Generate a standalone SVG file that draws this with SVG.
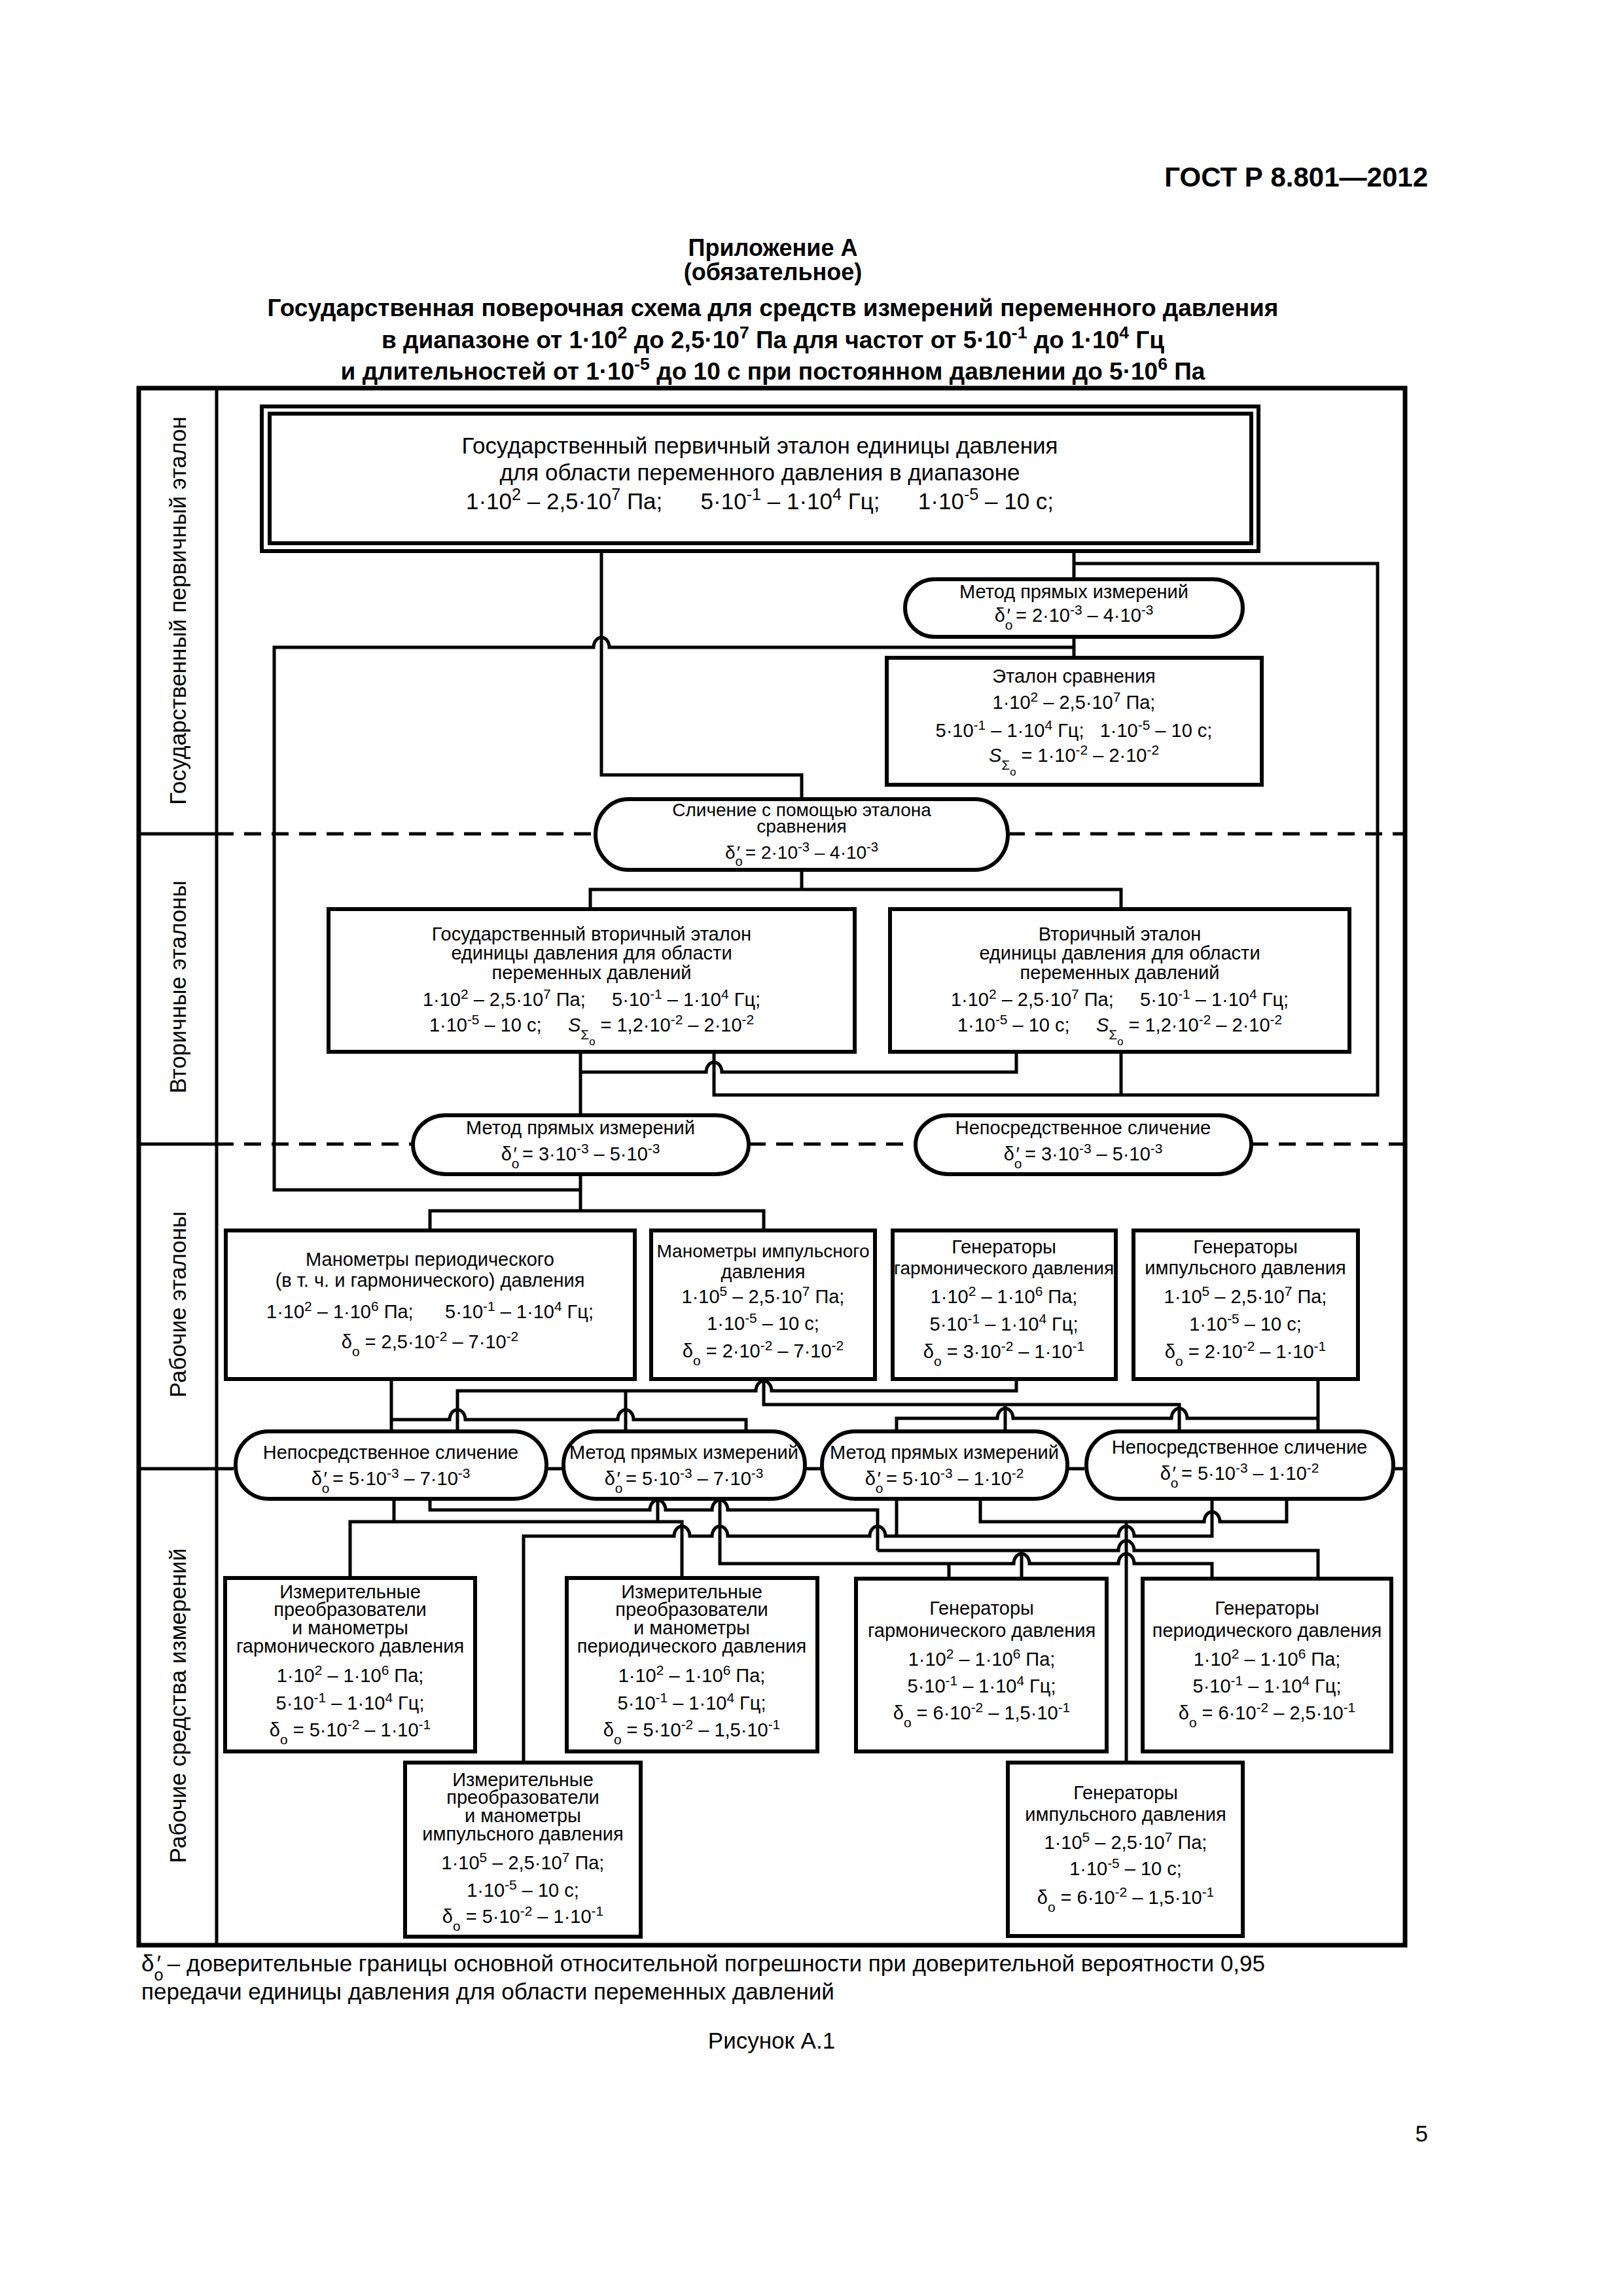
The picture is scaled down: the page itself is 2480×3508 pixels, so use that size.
<svg xmlns="http://www.w3.org/2000/svg" width="2480" height="3508" viewBox="0 0 2480 3508">
<style>
.tx{font-family:"Liberation Sans",Arial,sans-serif;font-size:29px;text-anchor:middle;fill:#000}
.st{text-anchor:start}
.en{text-anchor:end}
.p35{font-size:35px}
.sm{font-size:28px}
.n28{font-size:28px}
.hd{font-weight:bold;font-size:37px}
.u{font-size:72%;baseline-shift:super}
.d{font-size:72%;baseline-shift:sub}
.d2{font-size:80%;baseline-shift:sub}
.it{font-style:italic}
.box{fill:#fff;stroke:#000;stroke-width:6}
.ln{fill:none;stroke:#000;stroke-width:5}
.dash{stroke-dasharray:26 16}
.frame{fill:none;stroke:#000;stroke-width:7}
</style>
<rect width="2480" height="3508" fill="#fff"/>

<g id="header">
<text class="tx hd en" x="2182" y="285" style="font-size:42px">ГОСТ Р 8.801—2012</text>
<text class="tx hd" x="1181" y="391" style="font-size:36px">Приложение А</text>
<text class="tx hd" x="1181" y="428" style="font-size:36px">(обязательное)</text>
<text class="tx hd" x="1181" y="483">Государственная поверочная схема для средств измерений переменного давления</text>
<text class="tx hd" x="1181" y="532">в диапазоне от 1·10<tspan class="u">2</tspan> до 2,5·10<tspan class="u">7</tspan> Па для частот от 5·10<tspan class="u">-1</tspan> до 1·10<tspan class="u">4</tspan> Гц</text>
<text class="tx hd" x="1181" y="580">и длительностей от 1·10<tspan class="u">-5</tspan> до 10 с при постоянном давлении до 5·10<tspan class="u">6</tspan> Па</text>
</g>

<g id="frame">
<rect class="frame" x="212" y="593" width="1935" height="2379"/>
<line class="ln" x1="331" y1="593" x2="331" y2="2972"/>
<line class="ln" x1="212" y1="1274" x2="331" y2="1274"/>
<line class="ln" x1="212" y1="1748" x2="331" y2="1748"/>
<line class="ln" x1="212" y1="2244" x2="331" y2="2244"/>
<path class="ln dash" d="M331,1274H910M1540,1274H2147M331,1748H631M1144,1748H1399M1912,1748H2147M331,2244H360M835,2244H861M1230,2244H1256M1631,2244H1660M2129,2244H2147"/>
<text class="tx p35" transform="translate(284,933) rotate(-90)">Государственный первичный эталон</text>
<text class="tx p35" transform="translate(284,1508) rotate(-90)">Вторичные эталоны</text>
<text class="tx p35" transform="translate(284,1993) rotate(-90)">Рабочие эталоны</text>
<text class="tx p35" transform="translate(284,2606) rotate(-90)">Рабочие средства измерений</text>
</g>

<g id="connectors">
<path class="ln" d="M919,842V1184H1225V1221"/>
<path class="ln" d="M1641,842V885"/>
<path class="ln" d="M1641,861H2105V1673H1091V1607"/>
<path class="ln" d="M1713,1607V1673"/>
<path class="ln" d="M1641,973V1005"/>
<path class="ln" d="M887,1818H419V989H907A12 15 0 0 1 931,989H1641"/>
<path class="ln" d="M1225,1329V1359"/>
<path class="ln" d="M902,1389V1359H1713V1389"/>
<path class="ln" d="M887,1607V1704"/>
<path class="ln" d="M887,1638H1079A12 15 0 0 1 1103,1638H1553V1607"/>
<path class="ln" d="M887,1794V1850"/>
<path class="ln" d="M657,1880V1850H1167V1880"/>
<path class="ln" d="M598,2107V2187"/>
<path class="ln" d="M598,2169H687A12 15 0 0 1 711,2169H944A12 15 0 0 1 968,2169H1140V2187"/>
<path class="ln" d="M699,2187V2125H1155A12 15 0 0 1 1179,2125H1553V2107"/>
<path class="ln" d="M956,2125V2187"/>
<path class="ln" d="M1167,2107V2146H1802V2187"/>
<path class="ln" d="M1536,2146V2187"/>
<path class="ln" d="M1370,2187V2167H1524A12 15 0 0 1 1548,2167H1790A12 15 0 0 1 1814,2167H2014"/>
<path class="ln" d="M2014,2107V2187"/>
<path class="ln" d="M602,2290V2325"/>
<path class="ln" d="M535,2411V2325H1042V2411"/>
<path class="ln" d="M1005,2290V2325"/>
<path class="ln" d="M657,2290V2307H993A12 15 0 0 1 1017,2307H1088A12 15 0 0 1 1112,2307H1341V2369"/>
<path class="ln" d="M1341,2369H1709A12 15 0 0 1 1733,2369H2014V2412"/>
<path class="ln" d="M1561,2369V2412"/>
<path class="ln" d="M1100,2290V2389H1549A12 15 0 0 1 1573,2389H1709A12 15 0 0 1 1733,2389H1852V2412"/>
<path class="ln" d="M1450,2389V2412"/>
<path class="ln" d="M800,2693V2347H1030A12 15 0 0 1 1054,2347H1088A12 15 0 0 1 1112,2347H1329A12 15 0 0 1 1353,2347H1709A12 15 0 0 1 1733,2347H1852V2290"/>
<path class="ln" d="M1370,2290V2347"/>
<path class="ln" d="M1498,2290V2325H1840A12 15 0 0 1 1864,2325H1966V2290"/>
<path class="ln" d="M1721,2325V2693"/>
</g>

<g id="n-primary">
<rect class="box" x="400" y="621" width="1523" height="221"/>
<rect class="box" x="412" y="632" width="1500" height="198"/>
<text class="tx p35" x="1161" y="693">Государственный первичный эталон единицы давления</text>
<text class="tx p35" x="1161" y="734">для области переменного давления в диапазоне</text>
<text class="tx p35" x="1161" y="778">1·10<tspan class="u">2</tspan> – 2,5·10<tspan class="u">7</tspan> Па;&#160;&#160;&#160;&#160;&#160; 5·10<tspan class="u">-1</tspan> – 1·10<tspan class="u">4</tspan> Гц;&#160;&#160;&#160;&#160;&#160; 1·10<tspan class="u">-5</tspan> – 10 с;</text>
</g>

<g id="n-method1">
<rect class="box" x="1383" y="885" width="516" height="88" rx="45" ry="44"/>
<text class="tx" x="1641" y="914">Метод прямых измерений</text>
<text class="tx" x="1641" y="950">δ<tspan class="d">о</tspan><tspan dx="-9">′</tspan> = 2·10<tspan class="u">-3</tspan> – 4·10<tspan class="u">-3</tspan></text>
</g>

<g id="n-etalon-sravneniya">
<rect class="box" x="1355" y="1005" width="573" height="194"/>
<text class="tx" x="1641" y="1043">Эталон сравнения</text>
<text class="tx" x="1641" y="1083">1·10<tspan class="u">2</tspan> – 2,5·10<tspan class="u">7</tspan> Па;</text>
<text class="tx" x="1641" y="1126">5·10<tspan class="u">-1</tspan> – 1·10<tspan class="u">4</tspan> Гц;&#160;&#160; 1·10<tspan class="u">-5</tspan> – 10 с;</text>
<text class="tx" x="1641" y="1164"><tspan class="it">S</tspan><tspan class="d">Σ<tspan class="d2">о</tspan></tspan> = 1·10<tspan class="u">-2</tspan> – 2·10<tspan class="u">-2</tspan></text>
</g>

<g id="n-slichenie">
<rect class="box" x="910" y="1221" width="630" height="108" rx="50" ry="54"/>
<text class="tx sm" x="1225" y="1247">Сличение с помощью эталона</text>
<text class="tx sm" x="1225" y="1272">сравнения</text>
<text class="tx sm" x="1225" y="1312">δ<tspan class="d">о</tspan><tspan dx="-9">′</tspan> = 2·10<tspan class="u">-3</tspan> – 4·10<tspan class="u">-3</tspan></text>
</g>

<g id="n-gos-vtorichny">
<rect class="box" x="502" y="1389" width="804" height="218"/>
<text class="tx" x="904" y="1437">Государственный вторичный эталон</text>
<text class="tx" x="904" y="1466">единицы давления для области</text>
<text class="tx" x="904" y="1496">переменных давлений</text>
<text class="tx" x="904" y="1537">1·10<tspan class="u">2</tspan> – 2,5·10<tspan class="u">7</tspan> Па;&#160;&#160;&#160;&#160; 5·10<tspan class="u">-1</tspan> – 1·10<tspan class="u">4</tspan> Гц;</text>
<text class="tx" x="904" y="1576">1·10<tspan class="u">-5</tspan> – 10 с;&#160;&#160;&#160;&#160; <tspan class="it">S</tspan><tspan class="d">Σ<tspan class="d2">о</tspan></tspan> = 1,2·10<tspan class="u">-2</tspan> – 2·10<tspan class="u">-2</tspan></text>
</g>

<g id="n-vtorichny">
<rect class="box" x="1360" y="1389" width="702" height="218"/>
<text class="tx" x="1711" y="1437">Вторичный эталон</text>
<text class="tx" x="1711" y="1466">единицы давления для области</text>
<text class="tx" x="1711" y="1496">переменных давлений</text>
<text class="tx" x="1711" y="1537">1·10<tspan class="u">2</tspan> – 2,5·10<tspan class="u">7</tspan> Па;&#160;&#160;&#160;&#160; 5·10<tspan class="u">-1</tspan> – 1·10<tspan class="u">4</tspan> Гц;</text>
<text class="tx" x="1711" y="1576">1·10<tspan class="u">-5</tspan> – 10 с;&#160;&#160;&#160;&#160; <tspan class="it">S</tspan><tspan class="d">Σ<tspan class="d2">о</tspan></tspan> = 1,2·10<tspan class="u">-2</tspan> – 2·10<tspan class="u">-2</tspan></text>
</g>

<g id="n-method2">
<rect class="box" x="631" y="1704" width="513" height="90" rx="50" ry="45"/>
<text class="tx" x="887" y="1733">Метод прямых измерений</text>
<text class="tx" x="887" y="1773">δ<tspan class="d">о</tspan><tspan dx="-9">′</tspan> = 3·10<tspan class="u">-3</tspan> – 5·10<tspan class="u">-3</tspan></text>
</g>

<g id="n-neposr1">
<rect class="box" x="1399" y="1704" width="513" height="90" rx="50" ry="45"/>
<text class="tx" x="1655" y="1733">Непосредственное сличение</text>
<text class="tx" x="1655" y="1773">δ<tspan class="d">о</tspan><tspan dx="-9">′</tspan> = 3·10<tspan class="u">-3</tspan> – 5·10<tspan class="u">-3</tspan></text>
</g>

<g id="n-manometry-period">
<rect class="box" x="345" y="1880" width="625" height="227"/>
<text class="tx" x="657" y="1934">Манометры периодического</text>
<text class="tx" x="657" y="1966">(в т. ч. и гармонического) давления</text>
<text class="tx" x="657" y="2014">1·10<tspan class="u">2</tspan> – 1·10<tspan class="u">6</tspan> Па;&#160;&#160;&#160;&#160;&#160; 5·10<tspan class="u">-1</tspan> – 1·10<tspan class="u">4</tspan> Гц;</text>
<text class="tx" x="657" y="2060">δ<tspan class="d">о</tspan> = 2,5·10<tspan class="u">-2</tspan> – 7·10<tspan class="u">-2</tspan></text>
</g>

<g id="n-manometry-imp">
<rect class="box" x="995" y="1880" width="342" height="227"/>
<text class="tx n28" x="1166" y="1921">Манометры импульсного</text>
<text class="tx" x="1166" y="1953">давления</text>
<text class="tx" x="1166" y="1991">1·10<tspan class="u">5</tspan> – 2,5·10<tspan class="u">7</tspan> Па;</text>
<text class="tx" x="1166" y="2032">1·10<tspan class="u">-5</tspan> – 10 с;</text>
<text class="tx" x="1166" y="2074">δ<tspan class="d">о</tspan> = 2·10<tspan class="u">-2</tspan> – 7·10<tspan class="u">-2</tspan></text>
</g>

<g id="n-gen-garm-re">
<rect class="box" x="1364" y="1880" width="341" height="227"/>
<text class="tx" x="1534" y="1915">Генераторы</text>
<text class="tx n28" x="1534" y="1947">гармонического давления</text>
<text class="tx" x="1534" y="1991">1·10<tspan class="u">2</tspan> – 1·10<tspan class="u">6</tspan> Па;</text>
<text class="tx" x="1534" y="2033">5·10<tspan class="u">-1</tspan> – 1·10<tspan class="u">4</tspan> Гц;</text>
<text class="tx" x="1534" y="2075">δ<tspan class="d">о</tspan> = 3·10<tspan class="u">-2</tspan> – 1·10<tspan class="u">-1</tspan></text>
</g>

<g id="n-gen-imp-re">
<rect class="box" x="1732" y="1880" width="343" height="227"/>
<text class="tx" x="1903" y="1915">Генераторы</text>
<text class="tx" x="1903" y="1947">импульсного давления</text>
<text class="tx" x="1903" y="1991">1·10<tspan class="u">5</tspan> – 2,5·10<tspan class="u">7</tspan> Па;</text>
<text class="tx" x="1903" y="2033">1·10<tspan class="u">-5</tspan> – 10 с;</text>
<text class="tx" x="1903" y="2075">δ<tspan class="d">о</tspan> = 2·10<tspan class="u">-2</tspan> – 1·10<tspan class="u">-1</tspan></text>
</g>

<g id="n-oval-neposr2">
<rect class="box" x="360" y="2187" width="475" height="103" rx="50" ry="51"/>
<text class="tx" x="597" y="2229">Непосредственное сличение</text>
<text class="tx" x="597" y="2269">δ<tspan class="d">о</tspan><tspan dx="-9">′</tspan> = 5·10<tspan class="u">-3</tspan> – 7·10<tspan class="u">-3</tspan></text>
</g>

<g id="n-oval-method3">
<rect class="box" x="861" y="2187" width="369" height="103" rx="50" ry="51"/>
<text class="tx" x="1045" y="2229">Метод прямых измерений</text>
<text class="tx" x="1045" y="2269">δ<tspan class="d">о</tspan><tspan dx="-9">′</tspan> = 5·10<tspan class="u">-3</tspan> – 7·10<tspan class="u">-3</tspan></text>
</g>

<g id="n-oval-method4">
<rect class="box" x="1256" y="2187" width="375" height="103" rx="50" ry="51"/>
<text class="tx" x="1443" y="2229">Метод прямых измерений</text>
<text class="tx" x="1443" y="2269">δ<tspan class="d">о</tspan><tspan dx="-9">′</tspan> = 5·10<tspan class="u">-3</tspan> – 1·10<tspan class="u">-2</tspan></text>
</g>

<g id="n-oval-neposr3">
<rect class="box" x="1660" y="2187" width="469" height="103" rx="50" ry="51"/>
<text class="tx" x="1894" y="2221">Непосредственное сличение</text>
<text class="tx" x="1894" y="2261">δ<tspan class="d">о</tspan><tspan dx="-9">′</tspan> = 5·10<tspan class="u">-3</tspan> – 1·10<tspan class="u">-2</tspan></text>
</g>

<g id="n-izm-garm">
<rect class="box" x="344" y="2411" width="382" height="265"/>
<text class="tx" x="535" y="2442">Измерительные</text>
<text class="tx" x="535" y="2469">преобразователи</text>
<text class="tx" x="535" y="2497">и манометры</text>
<text class="tx" x="535" y="2525">гармонического давления</text>
<text class="tx" x="535" y="2570">1·10<tspan class="u">2</tspan> – 1·10<tspan class="u">6</tspan> Па;</text>
<text class="tx" x="535" y="2612">5·10<tspan class="u">-1</tspan> – 1·10<tspan class="u">4</tspan> Гц;</text>
<text class="tx" x="535" y="2653">δ<tspan class="d">о</tspan> = 5·10<tspan class="u">-2</tspan> – 1·10<tspan class="u">-1</tspan></text>
</g>

<g id="n-izm-period">
<rect class="box" x="866" y="2411" width="383" height="265"/>
<text class="tx" x="1057" y="2442">Измерительные</text>
<text class="tx" x="1057" y="2469">преобразователи</text>
<text class="tx" x="1057" y="2497">и манометры</text>
<text class="tx" x="1057" y="2525">периодического давления</text>
<text class="tx" x="1057" y="2570">1·10<tspan class="u">2</tspan> – 1·10<tspan class="u">6</tspan> Па;</text>
<text class="tx" x="1057" y="2612">5·10<tspan class="u">-1</tspan> – 1·10<tspan class="u">4</tspan> Гц;</text>
<text class="tx" x="1057" y="2653">δ<tspan class="d">о</tspan> = 5·10<tspan class="u">-2</tspan> – 1,5·10<tspan class="u">-1</tspan></text>
</g>

<g id="n-izm-imp">
<rect class="box" x="619" y="2693" width="360" height="266"/>
<text class="tx" x="799" y="2729">Измерительные</text>
<text class="tx" x="799" y="2756">преобразователи</text>
<text class="tx" x="799" y="2784">и манометры</text>
<text class="tx" x="799" y="2812">импульсного давления</text>
<text class="tx" x="799" y="2856">1·10<tspan class="u">5</tspan> – 2,5·10<tspan class="u">7</tspan> Па;</text>
<text class="tx" x="799" y="2898">1·10<tspan class="u">-5</tspan> – 10 с;</text>
<text class="tx" x="799" y="2938">δ<tspan class="d">о</tspan> = 5·10<tspan class="u">-2</tspan> – 1·10<tspan class="u">-1</tspan></text>
</g>

<g id="n-gen-garm">
<rect class="box" x="1308" y="2412" width="383" height="264"/>
<text class="tx" x="1500" y="2467">Генераторы</text>
<text class="tx" x="1500" y="2501">гармонического давления</text>
<text class="tx" x="1500" y="2545">1·10<tspan class="u">2</tspan> – 1·10<tspan class="u">6</tspan> Па;</text>
<text class="tx" x="1500" y="2586">5·10<tspan class="u">-1</tspan> – 1·10<tspan class="u">4</tspan> Гц;</text>
<text class="tx" x="1500" y="2627">δ<tspan class="d">о</tspan> = 6·10<tspan class="u">-2</tspan> – 1,5·10<tspan class="u">-1</tspan></text>
</g>

<g id="n-gen-period">
<rect class="box" x="1746" y="2412" width="380" height="264"/>
<text class="tx" x="1936" y="2467">Генераторы</text>
<text class="tx" x="1936" y="2501">периодического давления</text>
<text class="tx" x="1936" y="2545">1·10<tspan class="u">2</tspan> – 1·10<tspan class="u">6</tspan> Па;</text>
<text class="tx" x="1936" y="2586">5·10<tspan class="u">-1</tspan> – 1·10<tspan class="u">4</tspan> Гц;</text>
<text class="tx" x="1936" y="2627">δ<tspan class="d">о</tspan> = 6·10<tspan class="u">-2</tspan> – 2,5·10<tspan class="u">-1</tspan></text>
</g>

<g id="n-gen-imp">
<rect class="box" x="1540" y="2693" width="359" height="265"/>
<text class="tx" x="1720" y="2749">Генераторы</text>
<text class="tx" x="1720" y="2782">импульсного давления</text>
<text class="tx" x="1720" y="2825">1·10<tspan class="u">5</tspan> – 2,5·10<tspan class="u">7</tspan> Па;</text>
<text class="tx" x="1720" y="2865">1·10<tspan class="u">-5</tspan> – 10 с;</text>
<text class="tx" x="1720" y="2909">δ<tspan class="d">о</tspan> = 6·10<tspan class="u">-2</tspan> – 1,5·10<tspan class="u">-1</tspan></text>
</g>

<g id="footer">
<text class="tx st" x="216" y="3012" style="font-size:35px">δ<tspan class="d">о</tspan><tspan dx="-10">′</tspan> – доверительные границы основной относительной погрешности при доверительной вероятности 0,95</text>
<text class="tx st" x="216" y="3055" style="font-size:35px">передачи единицы давления для области переменных давлений</text>
<text class="tx" x="1179" y="3130" style="font-size:35px">Рисунок А.1</text>
<text class="tx en" x="2182" y="3272" style="font-size:35px">5</text>
</g>
</svg>
